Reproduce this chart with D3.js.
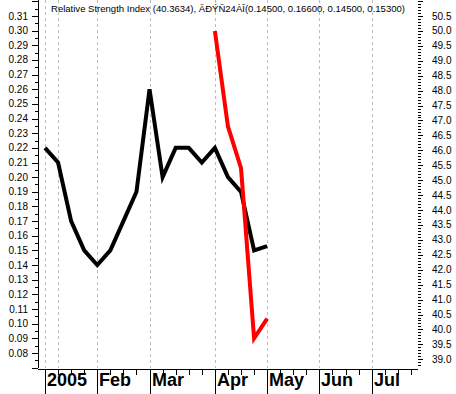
<!DOCTYPE html>
<html><head><meta charset="utf-8">
<script src="https://cdn.jsdelivr.net/npm/d3@7"></script>
<style>html,body{margin:0;padding:0;background:#fff;}svg{display:block;}</style>
</head><body>
<script>
const titleText = "Relative Strength Index (40.3634), ÃÐÝÑ24ÀÎ(0.14500, 0.16600, 0.14500, 0.15300)";
const weekIndex = [0,1,2,3,4,5,6,7,8,9,10,11,12,13,14,15,16,17];
const blackValues = [0.22,0.21,0.17,0.15,0.14,0.15,0.17,0.19,0.26,0.20,0.22,0.22,0.21,0.22,0.20,0.19,0.15,0.153];
const redIndex = [13,14,15,16,17];
const redValues = [50.0,46.8,45.4,39.7,40.36];
const monthLabels = ["2005","Feb","Mar","Apr","May","Jun","Jul"];
const monthIndex = [0,4,8,13,17,21,25];
const gridIndex = [0,1,4,8,13,17,21,25];
const leftTicks = d3.range(7,33).map(d=>d/100);
const leftMinor = d3.range(14,65).map(d=>d/200);
const rightMajor = d3.range(78,103).map(d=>d/2);
const rightMinor = d3.range(388,511).map(d=>d/10);

const W=456,H=394;
const svg=d3.select("body").append("svg").attr("width",W).attr("height",H);
const x=d3.scaleLinear().domain([0,25]).range([45,371.7]);
const yL=d3.scaleLinear().domain([0.08,0.31]).range([353,16]);
const yR=d3.scaleLinear().domain([39.0,50.5]).range([359.3,16]);
const axisX=38, rightX=418, bottomY=369;
const font="Liberation Sans, Arial, sans-serif";

// gridlines
svg.append("g").selectAll("line").data(gridIndex).join("line")
  .attr("x1",d=>Math.round(x(d))+0.5).attr("x2",d=>Math.round(x(d))+0.5)
  .attr("y1",0).attr("y2",368)
  .attr("stroke","#bdbdbd").attr("stroke-width",1).attr("stroke-dasharray","3,3");

// left axis
const gl=svg.append("g");
gl.append("line").attr("x1",axisX+0.5).attr("x2",axisX+0.5).attr("y1",0).attr("y2",368).attr("stroke","#000");
gl.selectAll(".mn").data(leftMinor).join("line")
  .attr("x1",axisX-3).attr("x2",axisX)
  .attr("y1",d=>Math.round(yL(d))+0.5).attr("y2",d=>Math.round(yL(d))+0.5).attr("stroke","#000");
gl.selectAll(".mj").data(leftTicks).join("line")
  .attr("x1",axisX-6).attr("x2",axisX)
  .attr("y1",d=>Math.round(yL(d))+0.5).attr("y2",d=>Math.round(yL(d))+0.5).attr("stroke","#000");
gl.selectAll("text").data(leftTicks.filter(d=>d>=0.075&&d<=0.315)).join("text")
  .attr("x",28).attr("y",d=>yL(d)+3.5).attr("text-anchor","end")
  .attr("font-family",font).attr("font-size","10px").attr("fill","#000")
  .text(d=>d.toFixed(2));

// right axis
const gr=svg.append("g");
gr.selectAll(".mn").data(rightMinor).join("line")
  .attr("x1",rightX).attr("x2",rightX+3)
  .attr("y1",d=>Math.round(yR(d))+0.5).attr("y2",d=>Math.round(yR(d))+0.5).attr("stroke","#000");
gr.selectAll(".mj").data(rightMajor).join("line")
  .attr("x1",rightX).attr("x2",rightX+5)
  .attr("y1",d=>Math.round(yR(d))+0.5).attr("y2",d=>Math.round(yR(d))+0.5).attr("stroke","#000");
gr.selectAll("text").data(rightMajor.filter(d=>d>=39&&d<=50.5)).join("text")
  .attr("x",432).attr("y",d=>yR(d)+3.5).attr("text-anchor","start")
  .attr("font-family",font).attr("font-size","10px").attr("fill","#000")
  .text(d=>d.toFixed(1));

// bottom axis
const gb=svg.append("g");
gb.append("line").attr("x1",axisX).attr("x2",rightX).attr("y1",bottomY+0.5).attr("y2",bottomY+0.5).attr("stroke","#000");
gb.selectAll(".wk").data(d3.range(0,29).filter(i=>!monthIndex.includes(i))).join("line")
  .attr("x1",d=>Math.round(x(d))+0.5).attr("x2",d=>Math.round(x(d))+0.5)
  .attr("y1",bottomY).attr("y2",bottomY+6).attr("stroke","#000");
gb.selectAll(".sep").data(monthIndex).join("line")
  .attr("x1",d=>Math.round(x(d))+0.5).attr("x2",d=>Math.round(x(d))+0.5)
  .attr("y1",bottomY).attr("y2",H).attr("stroke","#000");
gb.selectAll("text").data(monthLabels).join("text")
  .attr("x",(d,i)=>Math.round(x(monthIndex[i]))+2).attr("y",386)
  .attr("font-family",font).attr("font-size","18px").attr("font-weight","bold").attr("fill","#000")
  .text(d=>d);

// lines
const lineB=d3.line().x((d,i)=>x(weekIndex[i])).y(d=>yL(d));
svg.append("path").datum(blackValues).attr("d",lineB)
  .attr("fill","none").attr("stroke","#000").attr("stroke-width",4).attr("stroke-linejoin","miter");
const lineR=d3.line().x((d,i)=>x(redIndex[i])).y(d=>yR(d));
svg.append("path").datum(redValues).attr("d",lineR)
  .attr("fill","none").attr("stroke","#ff0000").attr("stroke-width",4).attr("stroke-linejoin","miter");

// title
svg.append("text").attr("x",51).attr("y",12)
  .attr("font-family",font).attr("font-size","9.5px").attr("fill","#000")
  .attr("textLength",354).attr("lengthAdjust","spacingAndGlyphs")
  .text(titleText);
</script>
</body></html>
